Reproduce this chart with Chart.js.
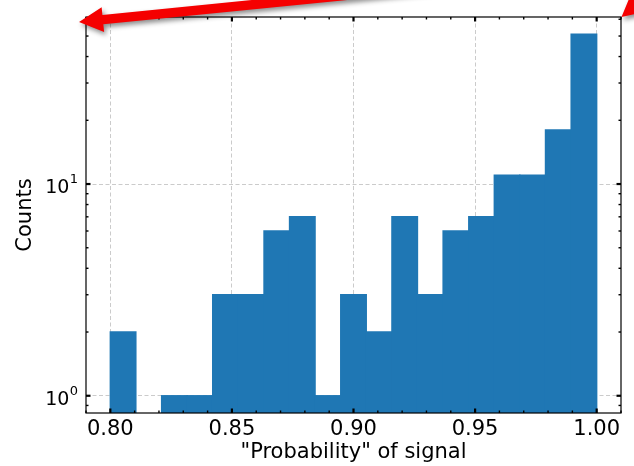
<!DOCTYPE html>
<html><head><meta charset="utf-8">
<script src="https://cdn.jsdelivr.net/npm/chart.js@4/dist/chart.umd.min.js"></script>
<style>html,body{margin:0;padding:0;background:#fff}#wrap{width:634px;height:466px}</style>
</head><body><div id="wrap"><canvas id="c" width="634" height="466"></canvas></div>
<script>
// ---- data ----
const binEdges = [0.8000, 0.8105, 0.8211, 0.8316, 0.8421, 0.8526, 0.8632, 0.8737, 0.8842, 0.8947,
                  0.9053, 0.9158, 0.9263, 0.9368, 0.9474, 0.9579, 0.9684, 0.9789, 0.9895, 1.0000];
const counts   = [2, 0, 1, 1, 3, 3, 6, 7, 1, 3, 2, 7, 3, 6, 7, 11, 11, 18, 51];
const xMajorTicks = [0.80, 0.85, 0.90, 0.95, 1.00];
const xMinorTicks = [0.79, 0.81, 0.82, 0.83, 0.84, 0.86, 0.87, 0.88, 0.89, 0.91, 0.92, 0.93, 0.94, 0.96, 0.97, 0.98, 0.99, 1.01];
const yMajorTicks = [1, 10];
const yMinorTicks = [0.9, 2, 3, 4, 5, 6, 7, 8, 9, 20, 30, 40, 50, 60];
const xRange = [0.79, 1.01];
const yRange = [0.829, 61.5];
const xLabel = '"Probability" of signal';
const yLabel = 'Counts';

const FONT = 'DejaVu Sans';
const barData = counts.map((c, i) => ({ x: (binEdges[i] + binEdges[i + 1]) / 2, y: c > 0 ? c : null }));

const decoPlugin = {
  id: 'deco',
  afterDraw(chart) {
    const ctx = chart.ctx, a = chart.chartArea;
    const xs = chart.scales.x, ys = chart.scales.y;
    ctx.save();
    // frame
    ctx.strokeStyle = '#000'; ctx.lineWidth = 1.2;
    ctx.strokeRect(a.left, a.top, a.right - a.left, a.bottom - a.top);
    // inward ticks
    const tick = (x1, y1, x2, y2, w) => { ctx.lineWidth = w; ctx.beginPath(); ctx.moveTo(x1, y1); ctx.lineTo(x2, y2); ctx.stroke(); };
    xMajorTicks.forEach(v => { const p = xs.getPixelForValue(v); tick(p, a.bottom, p, a.bottom - 4.5, 2.2); tick(p, a.top, p, a.top + 4.5, 2.2); });
    xMinorTicks.forEach(v => { const p = xs.getPixelForValue(v); tick(p, a.bottom, p, a.bottom - 2.5, 1.4); tick(p, a.top, p, a.top + 2.5, 1.4); });
    yMajorTicks.forEach(v => { const p = ys.getPixelForValue(v); tick(a.left, p, a.left + 4.5, p, 2.2); tick(a.right, p, a.right - 4.5, p, 2.2); });
    yMinorTicks.forEach(v => { const p = ys.getPixelForValue(v); tick(a.left, p, a.left + 2.5, p, 1.4); tick(a.right, p, a.right - 2.5, p, 1.4); });
    // y tick labels 10^n
    ctx.fillStyle = '#000';
    yMajorTicks.forEach(v => {
      const p = ys.getPixelForValue(v);
      const e = String(Math.round(Math.log10(v)));
      ctx.font = '13px "' + FONT + '"';
      ctx.textAlign = 'right'; ctx.textBaseline = 'alphabetic';
      const ex = a.left - 8;
      const ew = ctx.measureText(e).width;
      ctx.fillText(e, ex, p - 0.7);
      ctx.font = '19px "' + FONT + '"';
      ctx.fillText('10', ex - ew - 0.3, p + 9.3);
    });
    // red annotation arrows
    const arrow = (tip, ang, len) => {
      const hl = 24, hw = 25, sw = 9.5;
      ctx.save();
      ctx.translate(tip.x, tip.y); ctx.rotate(ang);
      ctx.shadowColor = 'rgba(0,0,0,0.45)'; ctx.shadowBlur = 5; ctx.shadowOffsetX = 2; ctx.shadowOffsetY = 3;
      ctx.fillStyle = '#f50000';
      ctx.beginPath();
      ctx.moveTo(0, 0);
      ctx.lineTo(hl, -hw / 2);
      ctx.lineTo(hl, -sw / 2);
      ctx.lineTo(len, -sw / 2);
      ctx.lineTo(len, sw / 2);
      ctx.lineTo(hl, sw / 2);
      ctx.lineTo(hl, hw / 2);
      ctx.closePath();
      ctx.fill();
      ctx.restore();
    };
    arrow({ x: a.left - 7, y: a.top + 5 }, Math.atan2(-40, 401), 420);
    arrow({ x: a.right + 0.5, y: a.top }, -40 * Math.PI / 180, 300);
    ctx.restore();
  }
};

new Chart(document.getElementById('c'), {
  type: 'bar',
  data: { datasets: [{ data: barData, backgroundColor: '#1f77b4', borderWidth: 0, inflateAmount: 0.7, barPercentage: 1, categoryPercentage: 1 }] },
  options: {
    animation: false, responsive: false, events: [],
    layout: { padding: { left: 0, top: 17, right: 13, bottom: 0 } },
    plugins: { legend: { display: false }, tooltip: { enabled: false } },
    scales: {
      x: {
        type: 'linear', min: xRange[0], max: xRange[1], z: 1, offset: false,
        afterBuildTicks: s => { s.ticks = xMajorTicks.map(v => ({ value: v })); },
        afterFit: s => { s.height = 53; },
        ticks: { callback: v => Number(v).toFixed(2), font: { family: FONT, size: 21 }, color: '#000', padding: 4, maxRotation: 0, autoSkip: false },
        grid: { color: 'rgba(185,185,185,0.75)', lineWidth: 1, drawTicks: false, offset: false },
        border: { display: false, dash: [4, 2.5] },
        title: { display: true, text: xLabel, font: { family: FONT, size: 21 }, color: '#000', padding: { top: 0, bottom: 1 } }
      },
      y: {
        type: 'logarithmic', min: yRange[0], max: yRange[1], z: 1,
        afterBuildTicks: s => { s.ticks = yMajorTicks.map(v => ({ value: v })); },
        afterFit: s => { s.width = 86; },
        ticks: { display: false },
        grid: { color: 'rgba(185,185,185,0.75)', lineWidth: 1, drawTicks: false },
        border: { display: false, dash: [4, 2.5] },
        title: { display: true, text: yLabel, font: { family: FONT, size: 21 }, color: '#000', padding: { top: 13, bottom: 0 } }
      }
    }
  },
  plugins: [decoPlugin]
});
</script></body></html>
